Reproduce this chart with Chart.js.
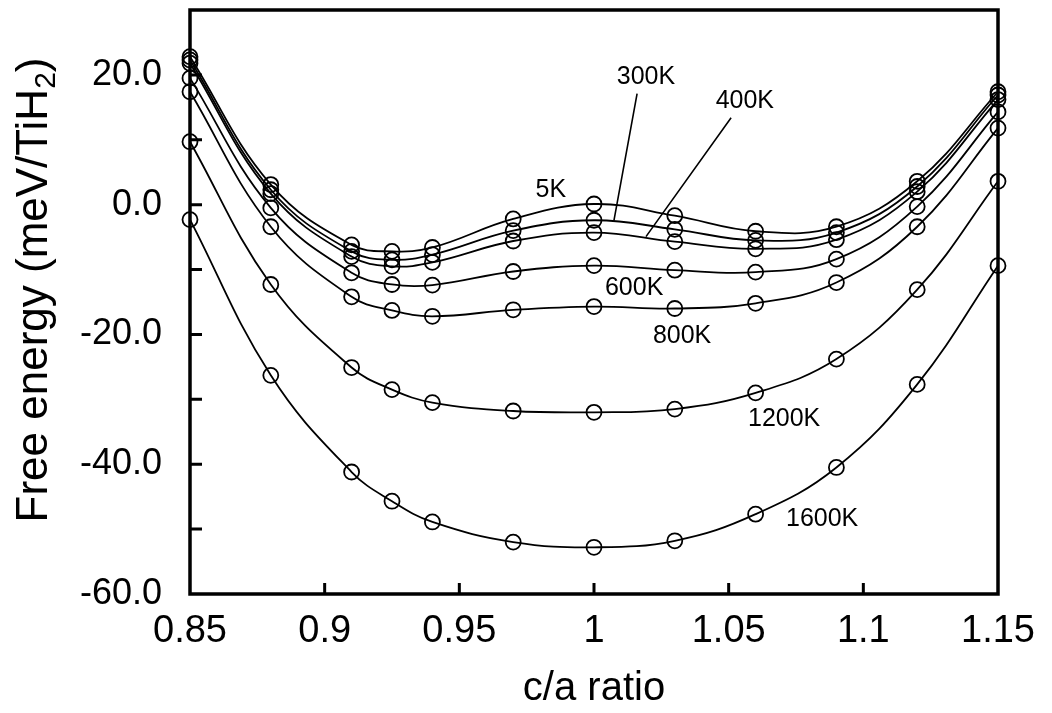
<!DOCTYPE html>
<html lang="en">
    <head>
        <meta charset="utf-8">
        <title> Free energy vs c/a ratio </title>

        <!-- Charts -->
        <script src="https://cdn.jsdelivr.net/npm/chart.js"></script>

        <style>
            body {
                margin: 0;
                background: white;
            }
            #freeEnergyChart {
                display: block;
            }
        </style>
    </head>

    <body>
        <canvas id="freeEnergyChart" width="1052" height="713"></canvas>

        <script>
            // c/a ratios that were computed
            const caRatio = [0.85, 0.88, 0.91, 0.925, 0.94, 0.97, 1.0, 1.03, 1.06, 1.09, 1.12, 1.15];

            // free energy (meV/TiH2) for each temperature
            const energy5K    = [22.8,   3.1,  -6.2,  -7.2,  -6.6,  -2.2,   0.1,  -1.7,  -4.1,  -3.4,   3.6, 17.4];
            const energy300K  = [22.3,   2.3,  -7.2,  -8.5,  -7.7,  -4.0,  -2.4,  -3.8,  -5.5,  -4.3,   2.8, 16.9];
            const energy400K  = [21.8,   1.7,  -8.0,  -9.5,  -8.9,  -5.6,  -4.3,  -5.7,  -6.8,  -5.4,   2.0, 16.2];
            const energy600K  = [19.5,  -0.5, -10.5, -12.3, -12.4, -10.3,  -9.4, -10.1, -10.4,  -8.4,  -0.3, 14.3];
            const energy800K  = [17.4,  -3.4, -14.2, -16.3, -17.2, -16.2, -15.7, -16.0, -15.2, -12.0,  -3.4, 11.8];
            const energy1200K = [ 9.7, -12.3, -25.1, -28.5, -30.5, -31.8, -32.0, -31.5, -29.0, -23.8, -13.1,  3.6];
            const energy1600K = [-2.3, -26.3, -41.2, -45.7, -48.9, -52.0, -52.8, -51.8, -47.7, -40.5, -27.7, -9.4];

            const temperatures = ['5K', '300K', '400K', '600K', '800K', '1200K', '1600K'];
            const allEnergies = [energy5K, energy300K, energy400K, energy600K, energy800K, energy1200K, energy1600K];

            // axis ticks
            const xTicks = { min: 0.85, max: 1.15, step: 0.05 };
            const yTicks = { min: -60, max: 30, step: 10, labelEvery: 20 };

            // where the curve names sit, in data units [c/a, energy]
            const labelSpots = {
                '5K':    [0.984,   2.2],
                '300K':  [1.0193, 19.7],
                '400K':  [1.056,  16.0],
                '600K':  [1.0149, -12.8],
                '800K':  [1.0327, -20.3],
                '1200K': [1.0706, -33.1],
                '1600K': [1.0847, -48.5]
            };
            // leader lines from label to curve
            const leaders = [
                [[1.016, 17.1], [1.0074, -2.46]],
                [[1.0509, 13.4], [1.0193, -4.92]]
            ];

            const FONT = '"Liberation Sans", Arial, Helvetica, sans-serif';

            // Box, inward ticks, curve labels and the y title (needs a subscript)
            const framePlugin = {
                id: 'framePlugin',
                beforeDatasetsDraw(chart) {
                    const ctx = chart.ctx;
                    const a = chart.chartArea;
                    const xs = chart.scales.x;
                    const ys = chart.scales.y;

                    ctx.save();
                    ctx.strokeStyle = 'black';

                    // inward tick marks
                    ctx.lineWidth = 3;
                    ctx.beginPath();
                    ys.ticks.forEach(t => {
                        const py = ys.getPixelForValue(t.value);
                        if (py > a.top + 2 && py < a.bottom - 2) {
                            ctx.moveTo(a.left, py);
                            ctx.lineTo(a.left + 12, py);
                        }
                    });
                    xs.ticks.forEach(t => {
                        const px = xs.getPixelForValue(t.value);
                        if (px > a.left + 2 && px < a.right - 2) {
                            ctx.moveTo(px, a.bottom);
                            ctx.lineTo(px, a.bottom - 11);
                        }
                    });
                    ctx.stroke();

                    // frame
                    ctx.lineWidth = 3.5;
                    ctx.strokeRect(a.left, a.top, a.right - a.left, a.bottom - a.top);

                    // leader lines
                    ctx.lineWidth = 1.6;
                    ctx.beginPath();
                    leaders.forEach(([p, q]) => {
                        ctx.moveTo(xs.getPixelForValue(p[0]), ys.getPixelForValue(p[1]));
                        ctx.lineTo(xs.getPixelForValue(q[0]), ys.getPixelForValue(q[1]));
                    });
                    ctx.stroke();

                    // curve labels
                    ctx.fillStyle = 'black';
                    ctx.font = '25px ' + FONT;
                    ctx.textAlign = 'center';
                    ctx.textBaseline = 'middle';
                    temperatures.forEach(t => {
                        const s = labelSpots[t];
                        ctx.fillText(t, xs.getPixelForValue(s[0]), ys.getPixelForValue(s[1]));
                    });

                    // y axis title with subscript 2
                    const mainFont = '44px ' + FONT;
                    const subFont = '30px ' + FONT;
                    const head = 'Free energy (meV/TiH';
                    const sub = '2';
                    const tail = ')';
                    ctx.font = mainFont;
                    const wHead = ctx.measureText(head).width;
                    const wTail = ctx.measureText(tail).width;
                    ctx.font = subFont;
                    const wSub = ctx.measureText(sub).width;
                    const total = wHead + wSub + wTail;

                    ctx.translate(47, 290);
                    ctx.rotate(-Math.PI / 2);
                    ctx.textAlign = 'left';
                    ctx.textBaseline = 'alphabetic';
                    let x0 = -total / 2;
                    ctx.font = mainFont;
                    ctx.fillText(head, x0, 0);
                    ctx.font = subFont;
                    ctx.fillText(sub, x0 + wHead, 8);
                    ctx.font = mainFont;
                    ctx.fillText(tail, x0 + wHead + wSub, 0);

                    ctx.restore();
                }
            };

            const datasets = temperatures.map((t, k) => ({
                label: t,
                data: caRatio.map((x, i) => ({ x: x, y: allEnergies[k][i] })),
                borderColor: 'black',
                borderWidth: 1.8,
                backgroundColor: 'rgba(0,0,0,0)',
                pointStyle: 'circle',
                pointRadius: 7.5,
                pointBorderWidth: 1.8,
                pointBorderColor: 'black',
                pointBackgroundColor: 'rgba(0,0,0,0)',
                fill: false,
                tension: 0.4,
                clip: false
            }));

            const ctx = document.getElementById('freeEnergyChart').getContext('2d');

            const freeEnergyChart = new Chart(ctx, {
                type: 'line',
                data: { datasets: datasets },
                plugins: [framePlugin],
                options: {
                    responsive: false,
                    animation: false,
                    devicePixelRatio: 1,
                    layout: { padding: { top: 10, right: 54, left: 0, bottom: 0 } },
                    plugins: {
                        legend: { display: false },
                        tooltip: { enabled: false }
                    },
                    scales: {
                        x: {
                            type: 'linear',
                            min: xTicks.min,
                            max: xTicks.max,
                            grid: { display: false, drawTicks: false },
                            border: { display: false },
                            ticks: {
                                stepSize: xTicks.step,
                                autoSkip: false,
                                maxRotation: 0,
                                padding: 15,
                                color: 'black',
                                font: { family: FONT, size: 38 },
                                callback: v => parseFloat(v.toFixed(2)).toString()
                            },
                            title: {
                                display: true,
                                text: 'c/a ratio',
                                color: 'black',
                                font: { family: FONT, size: 40 },
                                padding: { top: 0, bottom: 0 }
                            },
                            afterFit(scale) {
                                scale.height = 119;
                                scale.paddingLeft = 0;
                                scale.paddingRight = 0;
                            }
                        },
                        y: {
                            min: yTicks.min,
                            max: yTicks.max,
                            grid: { display: false, drawTicks: false },
                            border: { display: false },
                            ticks: {
                                stepSize: yTicks.step,
                                padding: 28,
                                color: 'black',
                                font: { family: FONT, size: 36 },
                                callback: v => (v % yTicks.labelEvery === 0 ? v.toFixed(1) : '')
                            },
                            afterFit(scale) {
                                scale.width = 190;
                                scale.paddingTop = 0;
                                scale.paddingBottom = 0;
                            }
                        }
                    }
                }
            });
        </script>
    </body>
</html>
